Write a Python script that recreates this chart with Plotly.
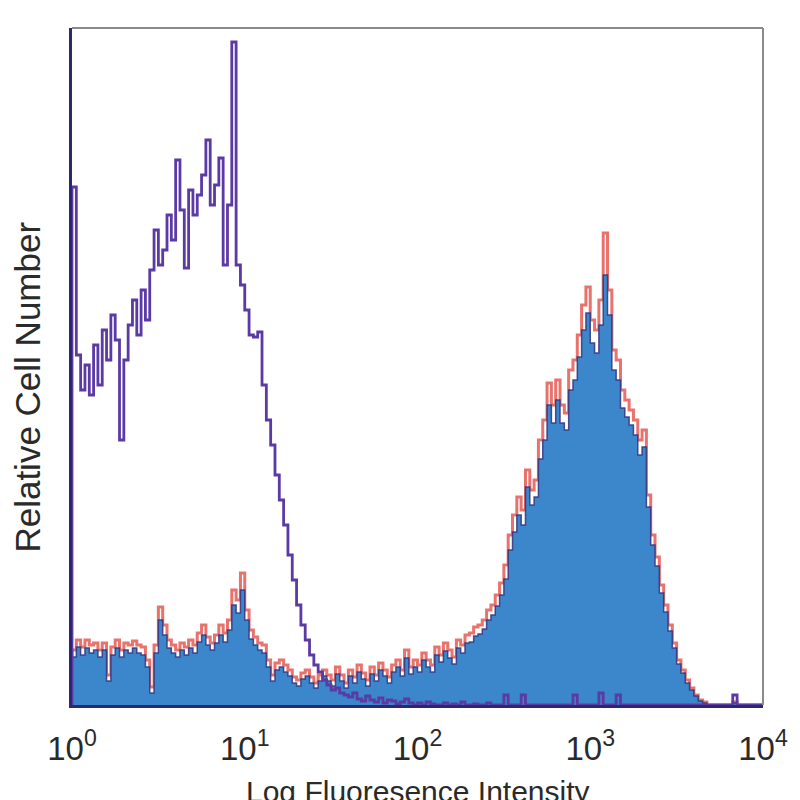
import numpy as np
import plotly.graph_objects as go

# log-channel histograms: 160 bins of 0.025 decade from 10^0 to 10^4
bin_width_decades = 0.025

isotype = [518,350,315,340,310,360,320,375,345,390,
           365,265,345,380,405,370,415,385,435,475,
           440,455,490,465,545,495,437,515,490,510,
           530,565,500,520,547,440,500,663,440,420,
           395,370,368,373,320,285,260,230,205,180,
           150,125,100,80,65,50,40,33,25,20,
           15,17,12,10,8,12,6,4,9,5,
           3,7,2,5,4,1,3,6,2,0,
           2,0,3,1,0,0,2,0,1,0,
           3,0,0,1,0,0,2,0,0,0,
           10,0,0,0,10,0,0,0,0,0,
           0,0,0,0,0,0,10,0,0,0,
           0,0,12,0,0,0,10,0,0,0,
           0,0,0,0,0,0,0,0,0,0,
           0,0,0,0,0,0,0,0,0,0,
           0,0,0,10,0,0,0,0,0,0]

stained_outline = [55,65,58,65,60,62,55,62,30,58,
                   65,55,62,60,64,60,58,45,18,60,
                   98,80,65,60,55,62,58,65,60,72,
                   80,68,62,70,80,72,85,115,105,132,
                   95,75,68,62,60,45,30,42,45,40,
                   35,28,25,32,35,28,22,30,35,30,
                   25,38,30,22,35,28,40,32,25,38,
                   30,42,35,28,40,45,35,55,38,45,
                   40,52,45,40,58,50,62,55,48,65,
                   60,70,72,78,80,85,95,100,110,122,
                   140,170,190,208,195,235,215,225,265,285,
                   322,300,325,300,292,335,345,370,400,418,
                   385,375,405,472,415,355,345,315,305,295,
                   285,265,275,210,170,148,120,100,80,62,
                   45,35,25,17,10,5,3,0,0,0,
                   0,0,0,3,0,0,0,0,0,0]

stained_fill = [48,58,50,57,52,55,48,55,24,50,
                57,48,55,52,57,52,50,38,12,52,
                85,70,57,52,48,55,50,57,52,63,
                70,60,55,62,70,63,75,100,92,115,
                85,66,60,55,52,38,24,35,38,33,
                29,22,19,26,29,22,17,24,29,24,
                19,31,24,17,29,22,33,26,19,31,
                24,35,29,22,33,38,29,47,31,38,
                33,45,38,33,50,43,54,47,41,57,
                52,62,63,69,71,76,85,90,99,110,
                126,155,173,190,180,218,200,208,246,265,
                300,282,305,282,275,315,325,348,375,392,
                362,352,380,430,390,335,325,297,288,280,
                270,250,258,198,160,139,112,93,74,57,
                41,32,22,15,9,4,2,0,0,0,
                0,0,0,2,0,0,0,0,0,0]

tick_vals = [1, 10, 100, 1000, 10000]
tick_text = ["10<sup>0</sup>", "10<sup>1</sup>", "10<sup>2</sup>", "10<sup>3</sup>", "10<sup>4</sup>"]


def step_xy(vals):
    n = len(vals)
    edges = 10 ** (np.arange(n) * bin_width_decades)
    xs = np.concatenate([[1.0], edges, [10 ** (n * bin_width_decades)]])
    ys = np.concatenate([[0], vals, [0]])
    return xs, ys


fig = go.Figure()

x, y = step_xy(stained_outline)
fig.add_trace(go.Scatter(x=x, y=y, mode="lines", line_shape="hv",
                         line=dict(color="rgba(226,80,72,0.8)", width=3),
                         hoverinfo="skip", showlegend=False))

x, y = step_xy(stained_fill)
fig.add_trace(go.Scatter(x=x, y=y, mode="lines", line_shape="hv",
                         fill="tozeroy", fillcolor="#3c87cb",
                         line=dict(color="rgba(50,50,125,0.85)", width=1.5),
                         hoverinfo="skip", showlegend=False))

x, y = step_xy(isotype)
fig.add_trace(go.Scatter(x=x, y=y, mode="lines", line_shape="hv",
                         line=dict(color="#5b3aa6", width=2.8),
                         hoverinfo="skip", showlegend=False))

font_fam = "Liberation Sans Narrow, Liberation Sans, Arial, sans-serif"

# page body has an 8px default offset, so the figure is 792x792
fig.update_layout(
    width=792, height=792,
    margin=dict(l=64, r=30, t=20, b=95),
    paper_bgcolor="white", plot_bgcolor="white",
    xaxis=dict(type="log", range=[0, 4], tickvals=tick_vals, ticktext=tick_text,
               showgrid=False, zeroline=False, showline=True,
               linecolor="#2a2870", linewidth=3,
               ticks="outside", ticklen=12, tickcolor="rgba(0,0,0,0)",
               tickfont=dict(family=font_fam, size=33, color="#2a2a2a")),
    yaxis=dict(range=[0, 677], showgrid=False, zeroline=False, showline=True,
               linecolor="#2a2870", linewidth=3, showticklabels=False, ticks=""),
    shapes=[
        dict(type="line", xref="paper", yref="paper", x0=0, x1=1, y0=1, y1=1,
             line=dict(color="#8a8a8a", width=2)),
        dict(type="line", xref="paper", yref="paper", x0=1, x1=1, y0=0, y1=1,
             line=dict(color="#8a8a8a", width=2)),
    ],
    annotations=[
        dict(text="Log Fluoresence Intensity", xref="paper", yref="paper",
             x=0.5, y=-0.1285, yanchor="middle", xanchor="center", showarrow=False,
             font=dict(family=font_fam, size=30, color="#2a2a2a")),
        dict(text="Relative Cell Number", xref="paper", yref="paper",
             x=-0.064, y=0.47, xanchor="center", yanchor="middle", textangle=-90,
             showarrow=False,
             font=dict(family=font_fam, size=35, color="#2a2a2a")),
    ],
)

fig.write_html("out.html")
